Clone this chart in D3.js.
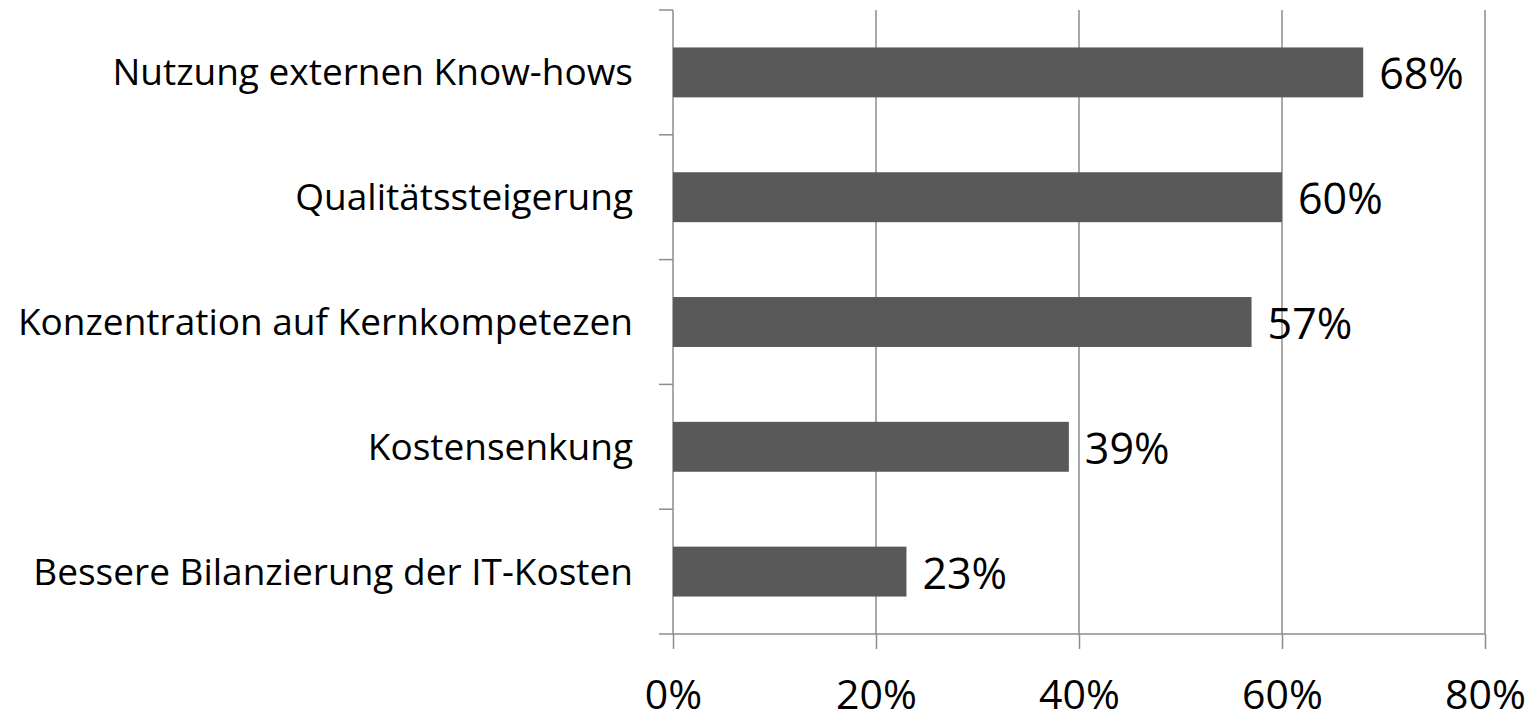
<!DOCTYPE html>
<html>
<head>
<meta charset="utf-8">
<script src="https://cdn.jsdelivr.net/npm/d3@7"></script>
<style>
  body { margin: 0; background: #fff; }
  text { font-family: "Open Sans", sans-serif; fill: #000; }
</style>
</head>
<body>
<svg id="chart"></svg>
<script>
// data
const categories = [
  "Nutzung externen Know-hows",
  "Qualitätssteigerung",
  "Konzentration auf Kernkompetezen",
  "Kostensenkung",
  "Bessere Bilanzierung der IT-Kosten"
];
const values = [68, 60, 57, 39, 23];
const xTicks = [0, 20, 40, 60, 80];

function drawChart() {
  const spec = {
    outer: { width: 1533, height: 717 },
    margin: { top: 10, left: 673 },
    inner: { width: 812, height: 624 }
  };

  const svg = d3.select("#chart")
    .attr("width", spec.outer.width)
    .attr("height", spec.outer.height);

  const g = svg.append("g")
    .attr("transform", `translate(${spec.margin.left}, ${spec.margin.top})`);

  const x = d3.scaleLinear().domain([0, 80]).range([0, spec.inner.width]);
  const y = d3.scaleBand().domain(categories).range([0, spec.inner.height]).padding(0);

  const axisColor = "#8c8c8c";

  // vertical gridlines
  g.selectAll(".grid")
    .data(xTicks.slice(1))
    .join("line")
    .attr("x1", d => x(d)).attr("x2", d => x(d))
    .attr("y1", 0).attr("y2", spec.inner.height)
    .attr("stroke", axisColor).attr("stroke-width", 1.5);

  // bottom axis
  const xAxis = g.append("g")
    .attr("transform", `translate(0, ${spec.inner.height})`)
    .call(d3.axisBottom(x).tickValues(xTicks).tickFormat(d => d + "%").tickSizeInner(15).tickSizeOuter(0).tickPadding(0));
  xAxis.select(".domain").remove();
  xAxis.selectAll(".tick line").attr("stroke", axisColor).attr("stroke-width", 1.5);
  xAxis.selectAll(".tick text")
    .attr("font-size", 41)
    .attr("font-family", "Open Sans, sans-serif")
    .attr("fill", "#000")
    .attr("y", 61)
    .attr("dy", "0.35em");
  xAxis.append("line")
    .attr("x1", -14).attr("x2", spec.inner.width)
    .attr("stroke", axisColor).attr("stroke-width", 1.5);

  // left axis: line plus tick marks between categories
  const yAxis = g.append("g");
  yAxis.append("line")
    .attr("x1", 0).attr("x2", 0).attr("y1", 0).attr("y2", spec.inner.height)
    .attr("stroke", axisColor).attr("stroke-width", 1.5);
  const bounds = categories.map(c => y(c));
  yAxis.selectAll(".ytick")
    .data(bounds)
    .join("line")
    .attr("x1", -14).attr("x2", 0)
    .attr("y1", d => d).attr("y2", d => d)
    .attr("stroke", axisColor).attr("stroke-width", 1.5);

  yAxis.selectAll(".ylabel")
    .data(categories)
    .join("text")
    .attr("x", -40)
    .attr("y", d => y(d) + y.bandwidth() / 2)
    .attr("dy", "0.35em")
    .attr("text-anchor", "end")
    .attr("font-size", 37)
    .text(d => d);

  const barH = y.bandwidth() * 0.4;
  const rows = categories.map((c, i) => ({ cat: c, val: values[i] }));

  g.selectAll(".bar")
    .data(rows)
    .join("rect")
    .attr("x", 0)
    .attr("y", d => y(d.cat) + (y.bandwidth() - barH) / 2)
    .attr("width", d => x(d.val))
    .attr("height", barH)
    .attr("fill", "#595959");

  g.selectAll(".val")
    .data(rows)
    .join("text")
    .attr("x", d => x(d.val) + 16)
    .attr("y", d => y(d.cat) + y.bandwidth() / 2 + 2)
    .attr("dy", "0.35em")
    .attr("font-size", 43)
    .text(d => d.val + "%");
}

drawChart();
</script>
</body>
</html>
